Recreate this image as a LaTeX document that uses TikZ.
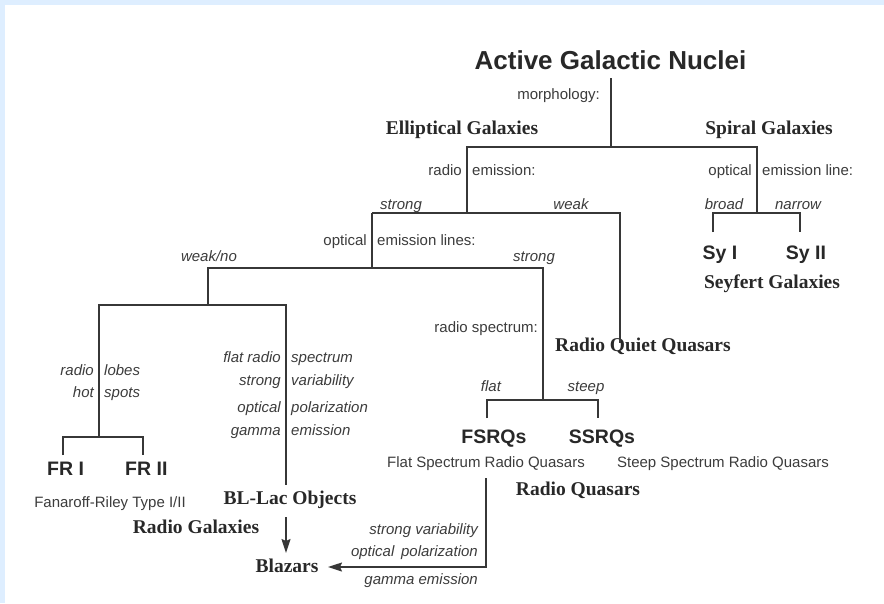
\documentclass[tikz,border=0pt]{standalone}
\usepackage{fontspec}
\setmainfont{Liberation Serif}
\setsansfont{Liberation Sans}
\usetikzlibrary{arrows.meta}
\definecolor{bord}{RGB}{222,238,255}
\definecolor{ln}{RGB}{55,55,55}
\definecolor{tx}{RGB}{40,40,40}
\definecolor{txl}{RGB}{60,60,60}
\tikzset{
  lbl/.style={inner sep=0pt, text=txl, font=\sffamily\fontsize{15}{15}\selectfont},
  ilbl/.style={inner sep=0pt, text=txl, font=\sffamily\itshape\fontsize{15}{15}\selectfont},
  sbold/.style={inner sep=0pt, text=tx, font=\sffamily\bfseries\fontsize{19.5}{19.5}\selectfont},
  serb/.style={inner sep=0pt, text=tx, font=\rmfamily\bfseries\fontsize{19.5}{19.5}\selectfont},
  ttl/.style={inner sep=0pt, text=tx, font=\sffamily\bfseries\fontsize{26}{26}\selectfont},
  tree/.style={draw=ln, line width=1.4pt},
  arr/.style={tree, -{Stealth[length=14pt,width=9pt,inset=2pt]}}
}
\begin{document}
\begin{tikzpicture}[x=1pt,y=-1pt]
\fill[bord] (0,0) rectangle (884,603);
\fill[white] (5,5) rectangle (884,603);
\useasboundingbox (0,0) rectangle (884,603);

% texts
\node[ttl, anchor=base] (title) at (610.5,69) {Active Galactic Nuclei};
\node[lbl, anchor=base east] (morph) at (600,99) {morphology:};
\node[serb, anchor=base] (ell) at (462,134) {Elliptical Galaxies};
\node[serb, anchor=base] (spi) at (769,134) {Spiral Galaxies};
\node[lbl, anchor=base east] (re1) at (462,175) {radio};
\node[lbl, anchor=base west] (re2) at (472,175) {emission:};
\node[lbl, anchor=base east] (oe1) at (752,175) {optical};
\node[lbl, anchor=base west] (oe2) at (762,175) {emission line:};
\node[ilbl, anchor=base] (strong1) at (401,209) {strong};
\node[ilbl, anchor=base] (weak1) at (571,209) {weak};
\node[ilbl, anchor=base] (broad) at (724,209) {broad};
\node[ilbl, anchor=base] (narrow) at (798,209) {narrow};
\node[sbold, anchor=base] (sy1) at (720,259) {Sy I};
\node[sbold, anchor=base] (sy2) at (806,259) {Sy II};
\node[serb, anchor=base] (seyf) at (772,288) {Seyfert Galaxies};
\node[lbl, anchor=base east] (ol1) at (367,245) {optical};
\node[lbl, anchor=base west] (ol2) at (377,245) {emission lines:};
\node[ilbl, anchor=base] (weakno) at (209,261) {weak/no};
\node[ilbl, anchor=base] (strong2) at (534,261) {strong};
\node[serb, anchor=base west] (rqq) at (555,351) {Radio Quiet Quasars};
\node[lbl, anchor=base east] (rspec) at (538,332) {radio spectrum:};
\node[ilbl, anchor=base] (flat) at (491,391) {flat};
\node[ilbl, anchor=base] (steep) at (586,391) {steep};
\node[sbold, anchor=base] (fsrq) at (494,443) {FSRQs};
\node[sbold, anchor=base] (ssrq) at (602,443) {SSRQs};
\node[lbl, anchor=base] (fsrqt) at (486,467) {Flat Spectrum Radio Quasars};
\node[lbl, anchor=base] (ssrqt) at (723,467) {Steep Spectrum Radio Quasars};
\node[serb, anchor=base] (rq) at (578,495) {Radio Quasars};
\node[ilbl, anchor=base east] (rl1) at (94,375) {radio};
\node[ilbl, anchor=base west] (rl2) at (104,375) {lobes};
\node[ilbl, anchor=base east] (hs1) at (94,397) {hot};
\node[ilbl, anchor=base west] (hs2) at (104,397) {spots};
\node[sbold, anchor=base west] (fr1) at (47,475) {FR I};
\node[sbold, anchor=base west] (fr2) at (125,475) {FR II};
\node[lbl, anchor=base] (fanr) at (110,507) {Fanaroff-Riley Type I/II};
\node[serb, anchor=base] (rgal) at (196,533) {Radio Galaxies};
\node[ilbl, anchor=base east] (b1a) at (281,362) {flat radio};
\node[ilbl, anchor=base west] (b1b) at (291,362) {spectrum};
\node[ilbl, anchor=base east] (b2a) at (281,385) {strong};
\node[ilbl, anchor=base west] (b2b) at (291,385) {variability};
\node[ilbl, anchor=base east] (b3a) at (281,412) {optical};
\node[ilbl, anchor=base west] (b3b) at (291,412) {polarization};
\node[ilbl, anchor=base east] (b4a) at (281,435) {gamma};
\node[ilbl, anchor=base west] (b4b) at (291,435) {emission};
\node[serb, anchor=base] (bllac) at (290,504) {BL-Lac Objects};
\node[serb, anchor=base] (blaz) at (287,572) {Blazars};
\node[ilbl, anchor=base east] (c1) at (478,534) {strong variability};
\node[ilbl, anchor=base east] (c2) at (478,556) {optical\, polarization};
\node[ilbl, anchor=base east] (c3) at (478,584) {gamma emission};

% junctions
\coordinate (t0) at (611,78);
\coordinate (t1) at (611,147);
\coordinate (eL) at (467,147);
\coordinate (eR) at (757,147);
\coordinate (eLb) at (467,213);
\coordinate (eRb) at (757,213);
\coordinate (rL) at (372,213);
\coordinate (rR) at (620,213);
\coordinate (rqqTop) at (620,343);
\coordinate (sL) at (713,213);
\coordinate (sR) at (800,213);
\coordinate (sLb) at (713,232);
\coordinate (sRb) at (800,232);
\coordinate (oT) at (372,268);
\coordinate (oL) at (208,268);
\coordinate (oR) at (543,268);
\coordinate (qT) at (543,400);
\coordinate (qL) at (487,400);
\coordinate (qR) at (598,400);
\coordinate (qLb) at (487,418);
\coordinate (qRb) at (598,418);
\coordinate (gT) at (208,305);
\coordinate (gL) at (99,305);
\coordinate (gR) at (286,305);
\coordinate (gLb) at (99,437);
\coordinate (fL) at (63,437);
\coordinate (fR) at (143,437);
\coordinate (fLb) at (63,455);
\coordinate (fRb) at (143,455);
\coordinate (gRb) at (286,485);
\coordinate (aT) at (286,517);
\coordinate (aB) at (286,553);
\coordinate (hT) at (486,478);
\coordinate (hC) at (486,567);
\coordinate (hE) at (328,567);

% tree
\draw[tree] (t0) -- (t1);
\draw[tree] (eLb) -- (eL) -- (eR) -- (eRb);
\draw[tree] (rL) -- (rR) -- (rqqTop);
\draw[tree] (sLb) -- (sL) -- (sR) -- (sRb);
\draw[tree] (rL) -- (oT);
\draw[tree] (gT) -- (oL) -- (oR) -- (qT);
\draw[tree] (qLb) -- (qL) -- (qR) -- (qRb);
\draw[tree] (gLb) -- (gL) -- (gR) -- (gRb);
\draw[tree] (fLb) -- (fL) -- (fR) -- (fRb);
\draw[arr] (aT) -- (aB);
\draw[arr] (hT) -- (hC) -- (hE);
\end{tikzpicture}
\end{document}
